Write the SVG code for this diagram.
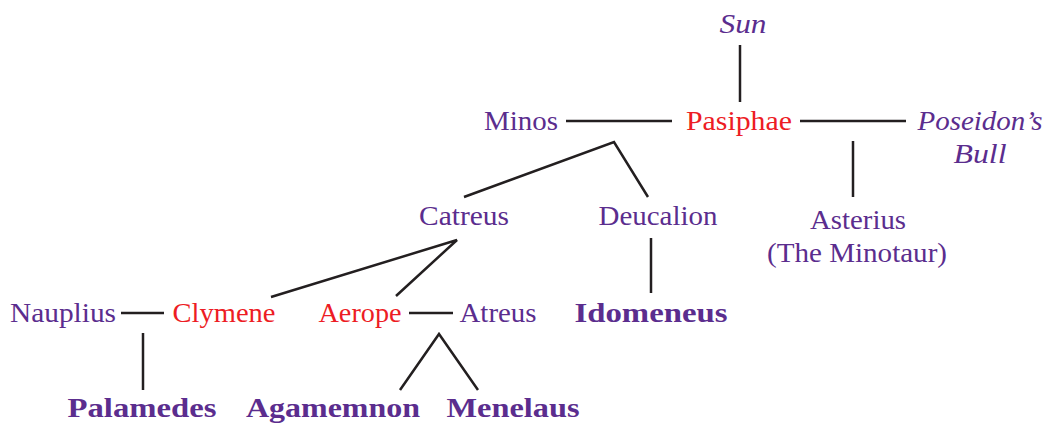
<svg xmlns="http://www.w3.org/2000/svg" width="1047" height="423" viewBox="0 0 1047 423">
<style>
text{font-family:"Liberation Serif","DejaVu Serif",serif;font-size:28px;text-anchor:middle}
.p{fill:#5b2d8e}
.r{fill:#ed1c24}
.i{font-style:italic}
.b{font-weight:bold}
#connectors line{stroke:#231f20;stroke-width:2.5;fill:none}
</style>
<rect width="1047" height="423" fill="#fff"/>
<g id="connectors">
<line x1="740" y1="45" x2="740" y2="102"/>
<line x1="566" y1="121" x2="672" y2="121"/>
<line x1="800" y1="121" x2="906" y2="121"/>
<line x1="853" y1="141" x2="853" y2="197"/>
<polyline points="464,197 614,142 648,197" style="stroke:#231f20;stroke-width:2.5;fill:none"/>
<line x1="651" y1="238" x2="651" y2="293"/>
<polyline points="271,297 457,240 396,296" style="stroke:#231f20;stroke-width:2.5;fill:none"/>
<line x1="121" y1="313" x2="164" y2="313"/>
<line x1="409" y1="313" x2="453" y2="313"/>
<line x1="143" y1="333" x2="143" y2="390"/>
<polyline points="400,390 439,334 478,390" style="stroke:#231f20;stroke-width:2.5;fill:none"/>
</g>
<g id="sun"><text class="p i" x="743" y="33" textLength="47" lengthAdjust="spacingAndGlyphs">Sun</text></g>
<g id="minos"><text class="p" x="521" y="130" textLength="74" lengthAdjust="spacingAndGlyphs">Minos</text></g>
<g id="pasiphae"><text class="r" x="739" y="130" textLength="106" lengthAdjust="spacingAndGlyphs">Pasiphae</text></g>
<g id="bull"><text class="p i" x="980" y="130" textLength="125" lengthAdjust="spacingAndGlyphs">Poseidon’s</text><text class="p i" x="980" y="163" textLength="53" lengthAdjust="spacingAndGlyphs">Bull</text></g>
<g id="catreus"><text class="p" x="464" y="225" textLength="90" lengthAdjust="spacingAndGlyphs">Catreus</text></g>
<g id="deucalion"><text class="p" x="658" y="225" textLength="119" lengthAdjust="spacingAndGlyphs">Deucalion</text></g>
<g id="asterius"><text class="p" x="858" y="229" textLength="96" lengthAdjust="spacingAndGlyphs">Asterius</text><text class="p" x="857" y="262" textLength="180" lengthAdjust="spacingAndGlyphs">(The Minotaur)</text></g>
<g id="nauplius"><text class="p" x="63" y="322" textLength="106" lengthAdjust="spacingAndGlyphs">Nauplius</text></g>
<g id="clymene"><text class="r" x="224" y="322" textLength="103" lengthAdjust="spacingAndGlyphs">Clymene</text></g>
<g id="aerope"><text class="r" x="360" y="322" textLength="83" lengthAdjust="spacingAndGlyphs">Aerope</text></g>
<g id="atreus"><text class="p" x="498" y="322" textLength="77" lengthAdjust="spacingAndGlyphs">Atreus</text></g>
<g id="idomeneus"><text class="p b" x="651" y="322" textLength="153" lengthAdjust="spacingAndGlyphs">Idomeneus</text></g>
<g id="palamedes"><text class="p b" x="142" y="417" textLength="149" lengthAdjust="spacingAndGlyphs">Palamedes</text></g>
<g id="agamemnon"><text class="p b" x="333" y="417" textLength="174" lengthAdjust="spacingAndGlyphs">Agamemnon</text></g>
<g id="menelaus"><text class="p b" x="513" y="417" textLength="133" lengthAdjust="spacingAndGlyphs">Menelaus</text></g>
</svg>
